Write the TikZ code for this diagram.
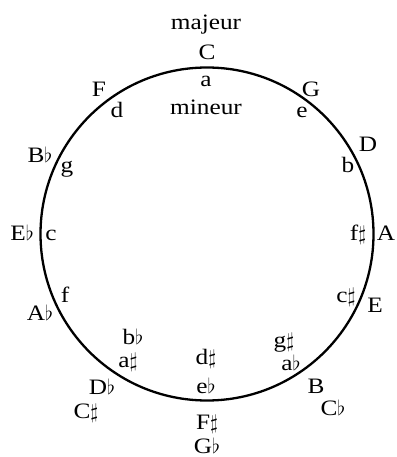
\documentclass[tikz,border=0pt]{standalone}
\usepackage{fontspec}
\setmainfont[FakeStretch=1.15]{Liberation Serif}
\newcommand{\myfl}{\ensuremath{\flat}}
\newcommand{\mysh}{\ensuremath{\sharp}}
\tikzset{
  lbl/.style={anchor=base, inner sep=0pt, font=\fontsize{22}{25}\selectfont},
  ring/.style={draw, circle, line width=2.3pt, minimum size=333pt, inner sep=0pt}
}
\begin{document}
\begin{tikzpicture}[x=1pt,y=-1pt]
\useasboundingbox (0,0) rectangle (396,457);
\node[ring] (circ) at (207,234) {};
% top
\node[lbl] (maj) at (206,30) {majeur};
\node[lbl] (C) at (207,60) {C};
\node[lbl] (a) at (206,87) {a};
\node[lbl] (min) at (206,115) {mineur};
% F / d
\node[lbl] (F) at (99,97) {F};
\node[lbl] (d) at (117,118) {d};
% G / e
\node[lbl] (G) at (311,97) {G};
\node[lbl] (e) at (302,118) {e};
% D / b
\node[lbl] (D) at (368,152) {D};
\node[lbl] (b) at (348,172) {b};
% Bb / g
\node[lbl] (Bb) at (40,163) {B\myfl};
\node[lbl] (g) at (67,172) {g};
% Eb / c
\node[lbl] (Eb) at (22,240) {E\myfl};
\node[lbl] (c) at (51,240) {c};
% A / f#
\node[lbl] (A) at (386,240) {A};
\node[lbl] (fs) at (358,240) {f\mysh};
% Ab / f
\node[lbl] (Ab) at (40,320) {A\myfl};
\node[lbl] (f) at (65,302) {f};
% E / c#
\node[lbl] (E) at (375,312) {E};
\node[lbl] (cs) at (346,302) {c\mysh};
% Db/C# , bb/a#
\node[lbl] (bb) at (133,344) {b\myfl};
\node[lbl] (as) at (128,367) {a\mysh};
\node[lbl] (Db) at (102,394) {D\myfl};
\node[lbl] (Cs) at (86,418) {C\mysh};
% B/Cb , g#/ab
\node[lbl] (gs) at (284,347) {g\mysh};
\node[lbl] (ab) at (291,370) {a\myfl};
\node[lbl] (B) at (316,393) {B};
\node[lbl] (Cb) at (333,415) {C\myfl};
% bottom
\node[lbl] (ds) at (206,364) {d\mysh};
\node[lbl] (eb) at (206,393) {e\myfl};
\node[lbl] (Fs) at (207,429) {F\mysh};
\node[lbl] (Gb) at (207,453) {G\myfl};
\end{tikzpicture}
\end{document}
